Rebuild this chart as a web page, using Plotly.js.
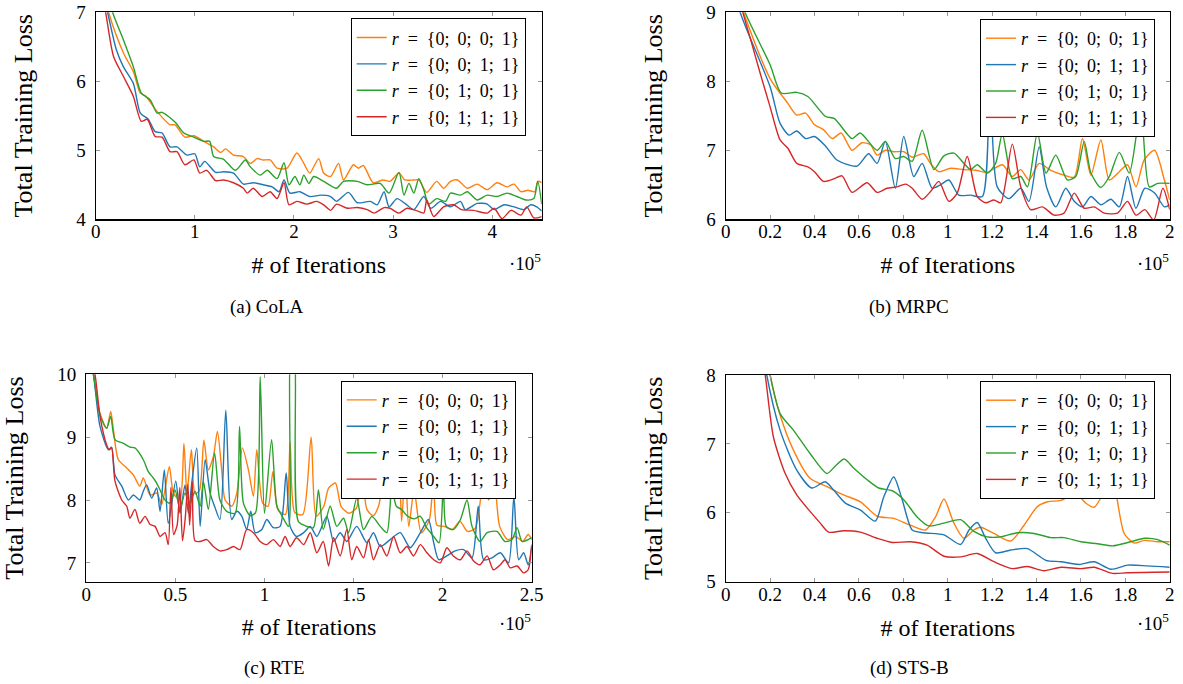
<!DOCTYPE html>
<html><head><meta charset="utf-8">
<script src="https://cdn.plot.ly/plotly-3.0.1.min.js"></script>
<style>html,body{margin:0;padding:0;background:#fff}#chart{width:1183px;height:684px}</style>
</head><body><div id="chart"></div>
<script>
// Legend labels and colours (en/thin spaces mimic TeX math spacing)
const seriesNames = [
  '<i>r</i>\u2002=\u2002{0;\u2009 0;\u2009 0;\u2009 1}',
  '<i>r</i>\u2002=\u2002{0;\u2009 0;\u2009 1;\u2009 1}',
  '<i>r</i>\u2002=\u2002{0;\u2009 1;\u2009 0;\u2009 1}',
  '<i>r</i>\u2002=\u2002{0;\u2009 1;\u2009 1;\u2009 1}'
];
const seriesColors = ['#ff7f0e', '#1f77b4', '#2ca02c', '#d62728'];
const panelCaptions = ['(a) CoLA', '(b) MRPC', '(c) RTE', '(d) STS-B'];
const xTitle = '# of Iterations';
const yTitle = 'Total Training Loss';

// ---- (a) CoLA  (x in units of 1e5 iterations) ----
const colaX0 = [0,0.13,0.28,0.38,0.45,0.5,0.62,0.75,0.8,0.9,0.99,1.09,1.19,1.26,1.31,1.39,1.49,1.56,1.63,1.69,1.76,1.83,1.93,2.03,2.1,2.16,2.25,2.3,2.37,2.45,2.5,2.6,2.65,2.7,2.8,2.9,2.97,3.06,3.12,3.21,3.26,3.34,3.44,3.51,3.58,3.65,3.75,3.85,3.95,4.05,4.15,4.22,4.29,4.36,4.43,4.46,4.5];
const colaY0 = [7.8,7.0,6.41,6.14,5.83,5.79,5.56,5.37,5.37,5.19,5.21,5.13,5.05,4.97,5.02,4.93,4.91,4.81,4.88,4.86,4.86,4.74,4.74,4.96,4.81,4.67,4.88,4.67,4.62,4.81,4.57,4.79,4.74,4.78,4.53,4.57,4.55,4.67,4.57,4.57,4.57,4.39,4.55,4.45,4.55,4.57,4.45,4.51,4.43,4.53,4.47,4.51,4.40,4.42,4.40,4.55,4.53];
const colaX1 = [0,0.12,0.21,0.28,0.38,0.45,0.53,0.6,0.67,0.75,0.82,0.92,1.0,1.05,1.1,1.21,1.29,1.39,1.49,1.59,1.69,1.78,1.85,1.9,1.96,2.06,2.16,2.27,2.37,2.43,2.55,2.64,2.77,2.84,2.91,2.96,3.04,3.12,3.21,3.31,3.38,3.48,3.58,3.68,3.73,3.85,3.95,4.02,4.12,4.22,4.32,4.39,4.45,4.5];
const colaY1 = [7.8,7.0,6.45,6.21,5.97,5.54,5.45,5.27,5.25,5.05,5.05,4.93,4.95,4.76,4.84,4.68,4.69,4.67,4.51,4.53,4.5,4.47,4.40,4.57,4.38,4.40,4.33,4.35,4.33,4.26,4.39,4.24,4.26,4.21,4.40,4.18,4.30,4.23,4.14,4.33,4.16,4.26,4.18,4.26,4.14,4.23,4.22,4.14,4.21,4.18,4.14,4.21,4.18,4.12];
const colaX2 = [0,0.17,0.28,0.38,0.46,0.55,0.62,0.67,0.8,0.89,0.99,1.09,1.15,1.19,1.29,1.41,1.51,1.56,1.66,1.73,1.83,1.9,1.95,2.01,2.06,2.1,2.15,2.2,2.3,2.43,2.5,2.64,2.74,2.87,2.96,3.06,3.11,3.16,3.21,3.26,3.31,3.36,3.44,3.53,3.58,3.68,3.75,3.85,3.95,4.05,4.15,4.25,4.34,4.42,4.46,4.5];
const colaY2 = [7.9,7.0,6.6,6.21,5.83,5.73,5.54,5.55,5.41,5.25,5.19,5.13,5.13,4.91,4.87,4.71,4.86,4.76,4.64,4.71,4.59,4.82,4.50,4.62,4.50,4.64,4.52,4.62,4.55,4.45,4.55,4.55,4.50,4.52,4.38,4.68,4.35,4.52,4.38,4.59,4.43,4.22,4.30,4.26,4.38,4.35,4.40,4.28,4.35,4.33,4.38,4.33,4.28,4.30,4.55,4.22];
const colaX3 = [0,0.1,0.18,0.28,0.38,0.46,0.52,0.6,0.67,0.75,0.82,0.9,0.99,1.05,1.12,1.21,1.29,1.39,1.49,1.53,1.59,1.68,1.76,1.83,1.9,1.95,2.03,2.13,2.23,2.3,2.37,2.43,2.54,2.64,2.74,2.81,2.91,2.97,3.06,3.14,3.23,3.31,3.34,3.41,3.51,3.61,3.69,3.81,3.95,4.02,4.1,4.19,4.29,4.35,4.42,4.5];
const colaY3 = [7.7,7.0,6.36,6.07,5.78,5.42,5.45,5.2,5.19,4.98,4.98,4.79,4.86,4.67,4.71,4.56,4.57,4.53,4.45,4.38,4.45,4.33,4.40,4.30,4.53,4.21,4.26,4.22,4.26,4.21,4.13,4.22,4.16,4.17,4.14,4.09,4.17,4.16,4.09,4.16,4.13,4.09,4.28,4.04,4.18,4.21,4.14,4.13,4.09,4.16,4.01,4.13,4.06,4.18,4.02,4.04];

// ---- (b) MRPC ----
const mrpcX0 = [0,0.08,0.2,0.28,0.32,0.36,0.4,0.44,0.48,0.52,0.569,0.614,0.652,0.682,0.719,0.757,0.802,0.84,0.892,0.922,0.96,1.013,1.073,1.126,1.178,1.246,1.291,1.329,1.366,1.412,1.464,1.524,1.57,1.607,1.645,1.69,1.728,1.773,1.81,1.848,1.885,1.932,1.976,2.0];
const mrpcY0 = [9.8,9.0,8.04,7.68,7.51,7.54,7.37,7.30,7.17,7.25,7.0,7.11,7.08,6.93,7.0,6.98,6.98,6.90,6.95,6.81,6.69,6.74,6.72,6.71,6.68,6.79,6.62,6.72,6.57,6.81,6.71,6.64,6.61,7.17,6.64,7.15,6.57,6.69,6.79,6.47,6.86,7.0,6.57,6.28];
const mrpcX1 = [0,0.065,0.2,0.245,0.286,0.32,0.36,0.4,0.45,0.501,0.591,0.644,0.682,0.719,0.764,0.802,0.847,0.885,0.93,0.968,1.005,1.05,1.103,1.156,1.19,1.223,1.276,1.329,1.366,1.412,1.445,1.487,1.532,1.57,1.607,1.645,1.69,1.735,1.773,1.81,1.848,1.888,1.932,1.976,2.0];
const mrpcY1 = [9.8,9.0,7.92,7.39,7.22,7.28,7.17,7.20,7.06,6.86,6.77,6.95,6.81,7.13,6.45,7.2,6.62,6.81,6.45,6.5,6.57,6.35,6.35,6.33,8.0,6.47,6.30,6.45,6.26,7.05,6.47,6.18,6.45,6.26,6.18,6.33,6.21,6.29,6.18,6.62,6.16,6.45,6.38,6.18,6.21];
const mrpcX2 = [0,0.087,0.2,0.25,0.32,0.37,0.45,0.49,0.569,0.606,0.682,0.719,0.764,0.802,0.84,0.885,0.938,0.983,1.028,1.073,1.103,1.133,1.178,1.216,1.246,1.291,1.329,1.359,1.404,1.443,1.487,1.539,1.577,1.615,1.645,1.69,1.728,1.773,1.818,1.87,1.908,1.946,2.0];
const mrpcY2 = [9.8,9.0,8.24,7.83,7.84,7.78,7.49,7.46,7.17,7.25,7.0,7.13,6.88,6.91,6.84,7.29,6.72,6.92,6.96,6.81,6.72,6.79,6.67,6.81,7.24,6.59,6.62,6.47,7.25,6.67,6.93,6.57,6.62,7.13,6.67,6.46,6.62,6.97,6.67,7.6,6.47,6.52,6.52];
const mrpcX3 = [0,0.077,0.155,0.2,0.245,0.28,0.32,0.37,0.4,0.44,0.49,0.524,0.569,0.637,0.682,0.727,0.772,0.81,0.84,0.885,0.922,0.96,1.005,1.043,1.088,1.133,1.171,1.208,1.239,1.291,1.329,1.374,1.427,1.479,1.524,1.57,1.615,1.66,1.705,1.765,1.81,1.848,1.888,1.928,1.969,2.0];
const mrpcY3 = [9.8,9.0,8.12,7.63,7.15,7.03,6.81,6.76,6.69,6.55,6.59,6.63,6.39,6.53,6.39,6.45,6.47,6.51,6.45,6.29,6.40,6.55,6.26,6.38,6.91,6.33,6.24,6.28,6.24,7.09,6.47,6.14,6.18,6.06,6.09,6.38,6.16,6.18,6.09,6.09,6.26,6.06,6.14,5.99,6.45,6.14];

// ---- (c) RTE ----
const rteX0 = [0,0.04,0.077,0.114,0.137,0.152,0.18,0.227,0.264,0.3,0.32,0.358,0.395,0.423,0.466,0.489,0.526,0.548,0.565,0.59,0.61,0.635,0.66,0.685,0.713,0.736,0.76,0.779,0.816,0.845,0.876,0.91,0.938,0.957,0.99,1.02,1.047,1.075,1.118,1.144,1.17,1.215,1.262,1.29,1.333,1.36,1.398,1.43,1.473,1.516,1.548,1.575,1.61,1.64,1.687,1.71,1.753,1.77,1.79,1.81,1.84,1.88,1.925,1.95,1.968,2.01,2.054,2.097,2.14,2.183,2.23,2.258,2.29,2.32,2.366,2.41,2.45,2.48,2.5];
const rteY0 = [10.6,10.0,9.38,9.14,9.41,9.12,8.64,8.51,8.40,8.22,8.35,8.08,8.11,7.93,8.53,8.11,8.0,8.9,8.1,8.8,8.1,8.15,8.95,8.48,8.69,9.09,8.48,8.0,7.90,8.11,8.83,8.48,8.06,8.8,7.95,7.90,8.45,7.85,7.77,8.92,7.80,7.77,9.0,7.74,7.90,8.19,8.27,7.90,7.79,7.87,8.4,7.85,7.75,7.9,8.6,8.05,8.5,7.66,8.5,7.58,8.15,7.48,7.68,8.4,7.6,7.58,7.53,7.66,7.50,7.55,8.3,8.0,8.3,7.58,7.37,7.42,7.34,7.45,7.37];
const rteX1 = [0,0.04,0.077,0.124,0.142,0.161,0.199,0.236,0.264,0.3,0.32,0.339,0.367,0.395,0.414,0.438,0.46,0.502,0.526,0.554,0.573,0.592,0.62,0.639,0.667,0.695,0.72,0.75,0.783,0.816,0.845,0.873,0.9,0.923,0.948,0.985,1.013,1.05,1.088,1.122,1.144,1.18,1.22,1.257,1.294,1.35,1.388,1.425,1.462,1.518,1.575,1.612,1.65,1.706,1.762,1.818,1.875,1.92,1.95,1.978,2.024,2.07,2.118,2.165,2.2,2.23,2.277,2.324,2.37,2.4,2.427,2.455,2.48,2.5];
const rteY1 = [10.6,10.0,9.17,8.80,8.84,8.40,8.22,8.0,8.08,8.0,8.14,8.24,8.03,8.19,7.82,8.48,7.63,8.30,7.79,8.24,7.79,8.27,8.83,7.58,8.64,8.11,7.9,7.69,9.43,7.69,7.82,7.74,7.53,7.82,7.48,7.53,7.69,7.56,7.58,8.43,7.58,7.42,7.48,7.58,7.42,7.74,7.34,7.48,7.34,7.58,7.32,7.48,7.26,7.37,7.48,7.24,7.48,7.69,7.32,7.05,7.11,7.19,7.21,7.08,7.90,7.05,7.08,7.16,7.0,8.06,7.05,7.16,6.97,7.26];
const rteX2 = [0,0.04,0.077,0.114,0.137,0.161,0.208,0.245,0.273,0.32,0.348,0.376,0.395,0.414,0.442,0.47,0.498,0.526,0.554,0.582,0.61,0.639,0.657,0.685,0.72,0.75,0.788,0.835,0.86,0.882,0.92,0.95,0.976,1.0,1.04,1.07,1.1,1.135,1.15,1.165,1.19,1.238,1.275,1.303,1.33,1.369,1.406,1.444,1.472,1.518,1.556,1.603,1.65,1.687,1.715,1.74,1.77,1.8,1.84,1.875,1.91,1.95,1.98,2.005,2.02,2.06,2.1,2.137,2.165,2.21,2.25,2.305,2.35,2.39,2.418,2.446,2.48,2.5];
const rteY2 = [10.6,10.0,9.35,9.14,9.33,8.96,8.90,8.84,8.83,8.64,8.45,8.35,8.27,8.16,8.0,7.95,8.16,7.85,8.11,7.95,8.14,7.90,8.30,7.85,8.75,8.0,7.82,7.79,9.17,7.95,7.75,7.8,9.96,7.79,8.96,7.90,7.74,7.58,10.5,10.5,7.66,7.58,7.56,8.16,7.53,7.90,7.58,7.71,7.48,8.03,7.53,7.74,7.58,7.48,8.2,7.9,7.85,7.75,7.7,7.74,7.56,7.42,7.32,8.3,7.58,7.53,7.69,8.0,7.58,7.34,7.48,7.50,7.34,7.37,7.56,7.34,7.37,7.40];
const rteX3 = [0,0.049,0.077,0.114,0.129,0.142,0.161,0.199,0.227,0.245,0.273,0.3,0.33,0.358,0.386,0.414,0.442,0.46,0.475,0.49,0.51,0.525,0.54,0.555,0.57,0.58,0.595,0.61,0.639,0.676,0.713,0.75,0.788,0.826,0.863,0.9,0.938,0.976,1.013,1.05,1.088,1.116,1.144,1.18,1.22,1.257,1.294,1.33,1.36,1.388,1.425,1.462,1.49,1.518,1.556,1.584,1.612,1.65,1.687,1.725,1.762,1.8,1.837,1.875,1.912,1.95,1.987,2.024,2.06,2.1,2.137,2.174,2.21,2.25,2.285,2.324,2.35,2.38,2.418,2.455,2.48,2.5];
const rteY3 = [10.6,10.0,9.33,8.88,8.80,8.83,8.30,8.0,7.90,7.71,7.85,7.63,7.74,7.61,7.58,7.42,7.48,7.29,8.2,7.45,7.6,8.2,7.35,7.7,8.25,7.6,8.3,7.35,7.34,7.37,7.26,7.19,7.21,7.26,7.21,7.53,7.48,7.34,7.29,7.37,7.26,7.42,7.26,7.40,7.29,7.48,7.16,7.34,6.95,7.40,7.11,7.53,7.05,7.26,7.08,7.37,7.05,7.29,7.11,7.42,7.16,7.26,7.11,7.29,7.16,7.05,7.0,7.24,7.11,7.05,7.19,7.03,6.97,7.11,6.89,6.97,7.05,6.92,6.95,6.84,6.89,7.29];

// ---- (d) STS-B ----
const stsbX0 = [0.1,0.2,0.245,0.305,0.38,0.456,0.531,0.607,0.682,0.757,0.832,0.9,0.945,0.983,1.028,1.073,1.118,1.148,1.208,1.284,1.344,1.404,1.45,1.51,1.577,1.622,1.66,1.705,1.735,1.758,1.795,1.84,1.886,1.946,2.0];
const stsbY0 = [10.2,8.0,7.42,6.91,6.50,6.38,6.26,6.16,5.95,5.92,5.82,5.75,5.94,6.20,5.85,5.63,5.75,5.79,5.70,5.59,5.82,6.09,6.16,6.18,6.28,6.14,6.08,6.31,6.5,6.28,5.70,5.56,5.60,5.58,5.58];
const stsbX1 = [0.09,0.185,0.245,0.32,0.388,0.448,0.486,0.539,0.607,0.674,0.712,0.757,0.795,0.84,0.892,0.983,1.058,1.096,1.133,1.171,1.216,1.284,1.359,1.442,1.51,1.592,1.66,1.735,1.81,1.9,2.0];
const stsbY1 = [10.2,8.0,7.20,6.62,6.36,6.45,6.33,6.14,6.04,5.88,6.23,6.52,6.19,5.75,5.71,5.68,5.54,5.75,5.86,5.63,5.42,5.46,5.48,5.31,5.29,5.25,5.29,5.18,5.24,5.23,5.21];
const stsbX2 = [0.1,0.2,0.245,0.305,0.38,0.456,0.494,0.534,0.576,0.637,0.689,0.75,0.802,0.862,0.915,0.983,1.058,1.118,1.178,1.238,1.314,1.389,1.464,1.524,1.6,1.675,1.743,1.825,1.886,1.946,2.0];
const stsbY2 = [10.0,8.0,7.44,7.20,6.86,6.57,6.68,6.78,6.65,6.48,6.36,6.32,6.19,5.94,5.81,5.85,5.90,5.73,5.65,5.65,5.71,5.70,5.64,5.64,5.58,5.55,5.52,5.58,5.63,5.61,5.53];
const stsbX3 = [0.08,0.178,0.215,0.268,0.32,0.38,0.426,0.463,0.531,0.607,0.682,0.75,0.832,0.907,0.983,1.058,1.133,1.208,1.29,1.359,1.434,1.51,1.6,1.66,1.743,1.81,2.0];
const stsbY3 = [10.2,8.0,7.10,6.57,6.26,6.02,5.85,5.72,5.74,5.72,5.63,5.57,5.58,5.53,5.37,5.36,5.41,5.29,5.19,5.22,5.16,5.21,5.19,5.21,5.12,5.13,5.14];

// Tick values
const xTicksA = [0,1,2,3,4];
const yTicksA = [4,5,6,7];
const xTicksB = [0,0.2,0.4,0.6,0.8,1,1.2,1.4,1.6,1.8,2];
const yTicksB = [6,7,8,9];
const xTicksC = [0,0.5,1,1.5,2,2.5];
const yTicksC = [7,8,9,10];
const yTicksD = [5,6,7,8];

const panels = [
  {xs:[colaX0,colaX1,colaX2,colaX3], ys:[colaY0,colaY1,colaY2,colaY3], xr:[0,4.5], yr:[4,7], xt:xTicksA, yt:yTicksA},
  {xs:[mrpcX0,mrpcX1,mrpcX2,mrpcX3], ys:[mrpcY0,mrpcY1,mrpcY2,mrpcY3], xr:[0,2], yr:[6,9], xt:xTicksB, yt:yTicksB},
  {xs:[rteX0,rteX1,rteX2,rteX3], ys:[rteY0,rteY1,rteY2,rteY3], xr:[0,2.5], yr:[6.7,10], xt:xTicksC, yt:yTicksC},
  {xs:[stsbX0,stsbX1,stsbX2,stsbX3], ys:[stsbY0,stsbY1,stsbY2,stsbY3], xr:[0,2], yr:[5,8], xt:xTicksB, yt:yTicksD}
];

// Layout geometry (pixels)
const W = 1183, H = 684;
const boxes = [
  {l:95.7, r:541.7, t:12.3, b:219.3},
  {l:725.7, r:1169.7, t:12.3, b:219.3},
  {l:86.3, r:531.7, t:374.3, b:581.7},
  {l:725.7, r:1169.7, t:375, b:581.7}
];
const legendPos = [[350.7,18.3],[980,19],[340.7,380.7],[980,381]];
const yStandoff = [36, 36, 34, 36];
const xStandoff = [15, 15, 14, 15];
const capPos = [[267,307],[909,307],[274,668],[909,668]];
const expY = [262, 262, 622, 622];

const FONT = 'Liberation Serif, DejaVu Serif, serif';
const px = v => v / W, py = v => 1 - v / H;

const data = [];
const layout = {
  width: W, height: H, margin: {l:0, r:0, t:0, b:0},
  paper_bgcolor: '#fff', plot_bgcolor: '#fff',
  font: {family: FONT, color: '#000', size: 17},
  annotations: []
};

panels.forEach((p, i) => {
  const n = i === 0 ? '' : String(i + 1);
  const bx = boxes[i];
  const legendName = 'legend' + n;
  for (let s = 0; s < 4; s++) {
    data.push({
      type: 'scatter', mode: 'lines',
      x: p.xs[s], y: p.ys[s],
      xaxis: 'x' + n, yaxis: 'y' + n,
      name: seriesNames[s],
      legend: legendName,
      line: {color: seriesColors[s], width: 1.4, shape: 'spline', smoothing: 0.7},
      hoverinfo: 'skip'
    });
  }
  const common = {
    showline: true, linecolor: '#000', linewidth: 1.2, mirror: 'allticks',
    ticks: 'inside', ticklen: 4, tickwidth: 1, tickcolor: '#999',
    showgrid: false, zeroline: false, fixedrange: true, automargin: false,
    tickfont: {family: FONT, size: 19, color: '#000'}
  };
  layout['xaxis' + n] = Object.assign({}, common, {
    domain: [px(bx.l), px(bx.r)], range: p.xr, anchor: 'y' + n,
    tickmode: 'array', tickvals: p.xt, ticktext: p.xt.map(String), ticklabelstandoff: -5,
    title: {text: xTitle, font: {family: FONT, size: 24, color: '#000'}, standoff: xStandoff[i]}
  });
  layout['yaxis' + n] = Object.assign({}, common, {
    domain: [py(bx.b), py(bx.t)], range: p.yr, anchor: 'x' + n,
    tickmode: 'array', tickvals: p.yt, ticktext: p.yt.map(String), ticklabelstandoff: 5,
    title: {text: yTitle, font: {family: FONT, size: 26, color: '#000'}, standoff: yStandoff[i]}
  });
  layout[legendName] = {
    x: px(legendPos[i][0]), y: py(legendPos[i][1]), xanchor: 'left', yanchor: 'top',
    bgcolor: '#fff', bordercolor: '#000', borderwidth: 1,
    font: {family: FONT, size: 18, color: '#000'}, itemwidth: 30, tracegroupgap: 0
  };
  layout.annotations.push(
    {text: '·10<sup>5</sup>', xref: 'paper', yref: 'paper', x: px(bx.r + 1), y: py(expY[i]),
     xanchor: 'right', yanchor: 'middle', showarrow: false, font: {family: FONT, size: 19, color: '#000'}},
    {text: panelCaptions[i], xref: 'paper', yref: 'paper', x: px(capPos[i][0]), y: py(capPos[i][1]),
     xanchor: 'center', yanchor: 'middle', showarrow: false, font: {family: FONT, size: 19, color: '#000'}}
  );
});

Plotly.newPlot('chart', data, layout, {displayModeBar: false, staticPlot: true});
</script>
</body></html>
